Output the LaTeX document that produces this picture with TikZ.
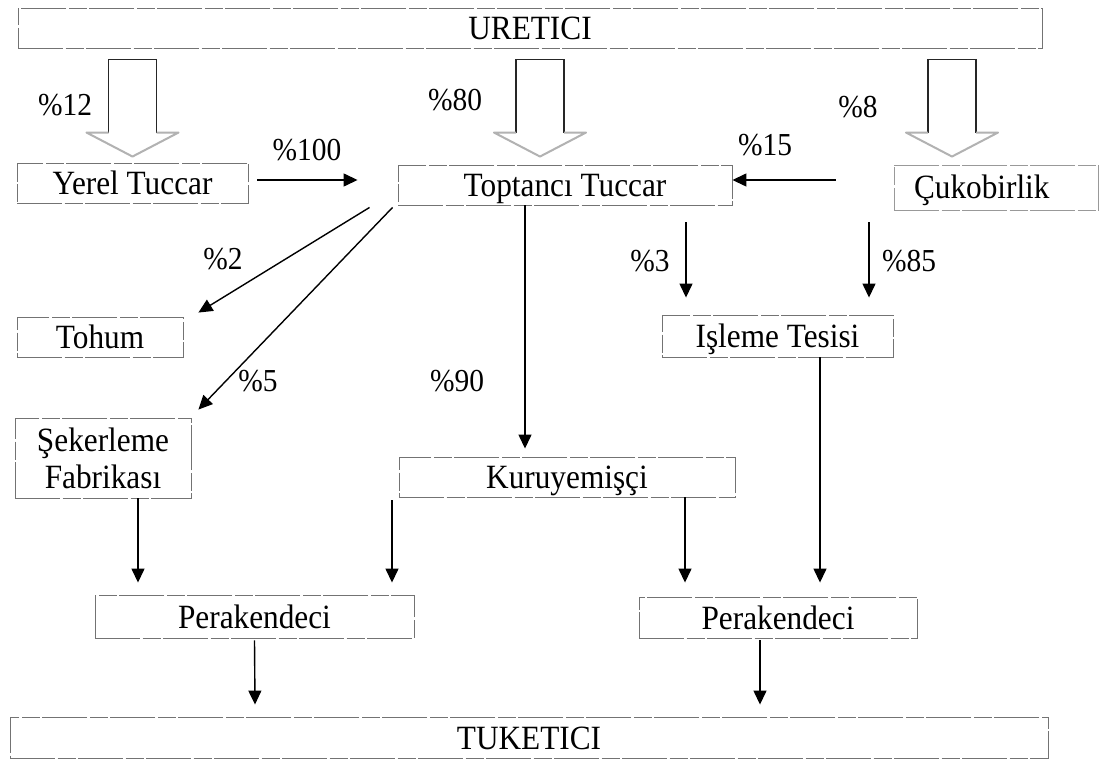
\documentclass[tikz,border=0pt]{standalone}
\usepackage{fontspec}
\setmainfont{Liberation Serif}[FakeStretch=0.92]
\usetikzlibrary{calc,arrows.meta}

% hollow block arrow hanging below the producer box; #1 = centre of the stem top
\newcommand\blockarrow[1]{%
  \draw[stemline] ($(#1)+(-24,73)$) |- ($(#1)+(24,0)$) -- ($(#1)+(24,73)$);
  \draw[headline] ($(#1)+(-24,73)$) -- ($(#1)+(-46,73)$) -- ($(#1)+(0,97)$)
                  -- ($(#1)+(46,73)$) -- ($(#1)+(24,73)$);
}

\begin{document}
\begin{tikzpicture}[x=1pt,y=-1pt,
  boxbase/.style={draw=black!55, line width=0.9pt,
              dash pattern=on 45pt off 2.5pt on 18pt off 2.5pt,
              inner sep=0pt, align=center,
              font=\fontsize{34}{37}\selectfont},
  box/.style={boxbase, text height=26pt, text depth=3pt},
  pct/.style={inner sep=0pt, font=\fontsize{32}{34}\selectfont},
  flow/.style={draw=black, line width=1.4pt,
               -{Triangle[length=14pt,width=13pt]}},
  stemline/.style={draw=black!85, line width=1.3pt},
  headline/.style={draw=black!30, line width=2pt, line join=round}]

\useasboundingbox[fill=white] (0,0) rectangle (1109,762);

% ---- boxes
\node[box, minimum width=1024pt, minimum height=40pt] (uretici) at (530,28) {URETICI};
\node[box, minimum width=231pt, minimum height=40pt] (yerel) at (132.5,183) {Yerel Tuccar};
\node[box, minimum width=334pt, minimum height=40pt] (toptanci) at (565,185) {Toptancı Tuccar};
\node[box, draw=black!40, minimum height=45pt, text width=164pt, inner xsep=20pt, align=left]
     (cuko) at (996,187.5) {Çukobirlik};
\node[box, minimum width=166pt, minimum height=40pt] (tohum) at (100,337) {Tohum};
\node[boxbase, minimum width=176pt, minimum height=80pt] (sek) at (103,458) {Şekerleme\\Fabrikası};
\node[box, minimum width=231pt, minimum height=42pt] (isleme) at (777.5,336) {Işleme Tesisi};
\node[box, minimum width=336pt, minimum height=40pt] (kuru) at (567,477) {Kuruyemişçi};
\node[box, minimum width=319pt, minimum height=43pt] (per1) at (254.5,616.5) {Perakendeci};
\node[box, minimum width=278pt, minimum height=41pt] (per2) at (778,617.5) {Perakendeci};
\node[box, minimum width=1038pt, minimum height=41pt] (tuk) at (529,737.5) {TUKETICI};

% ---- supply from the producer
\coordinate (ba1) at ([yshift=103pt]yerel.north);
\coordinate (ba2) at ([xshift=-25pt,yshift=105pt]toptanci.north);
\coordinate (ba3) at ([xshift=-44pt,yshift=105pt]cuko.north);
\blockarrow{ba1}
\blockarrow{ba2}
\blockarrow{ba3}

% ---- flows between actors
\draw[flow] ([xshift=9pt,yshift=3pt]yerel.east) -- ([xshift=-40pt,yshift=5pt]toptanci.west);
\draw[flow] ([xshift=-58pt,yshift=7.5pt]cuko.west) -- ([yshift=5pt]toptanci.east);
\draw[flow] ([xshift=-28pt,yshift=-2pt]toptanci.south west) -- ([xshift=15pt,yshift=4pt]tohum.north east);
\draw[flow] ([xshift=-5pt,yshift=-2pt]toptanci.south west) -- ([xshift=7pt,yshift=8pt]sek.north east);
\draw[flow] ([xshift=-40pt]toptanci.south) -- ([xshift=-42pt,yshift=8pt]kuru.north);
\draw[flow] ([xshift=121pt,yshift=-17pt]toptanci.south) -- ([xshift=-91.5pt,yshift=17pt]isleme.north);
\draw[flow] ([xshift=-127pt,yshift=-12pt]cuko.south) -- ([xshift=91.5pt,yshift=17pt]isleme.north);
\draw[flow] ([xshift=35pt]sek.south) -- ([xshift=-116.5pt,yshift=12pt]per1.north);
\draw[flow] ([xshift=-175pt,yshift=-3pt]kuru.south) -- ([xshift=137.5pt,yshift=12pt]per1.north);
\draw[flow] ([xshift=118pt]kuru.south) -- ([xshift=-93pt,yshift=14pt]per2.north);
\draw[flow] ([xshift=42.5pt]isleme.south) -- ([xshift=42pt,yshift=14pt]per2.north);
\draw[flow] ([yshift=-2pt]per1.south) -- ([xshift=-274pt,yshift=12pt]tuk.north);
\draw[flow] ([xshift=-18pt,yshift=-2pt]per2.south) -- ([xshift=231pt,yshift=12pt]tuk.north);

% ---- shares
\node[pct] (p12)  at (65,105)  {\%12};
\node[pct] (p80)  at (455,100) {\%80};
\node[pct] (p8)   at (858,107) {\%8};
\node[pct] (p100) at (307,150) {\%100};
\node[pct] (p15)  at (765,145) {\%15};
\node[pct] (p2)   at (223,259) {\%2};
\node[pct] (p5)   at (258,381) {\%5};
\node[pct] (p90)  at (457,381) {\%90};
\node[pct] (p3)   at (650,261) {\%3};
\node[pct] (p85)  at (909,261) {\%85};

\end{tikzpicture}
\end{document}
